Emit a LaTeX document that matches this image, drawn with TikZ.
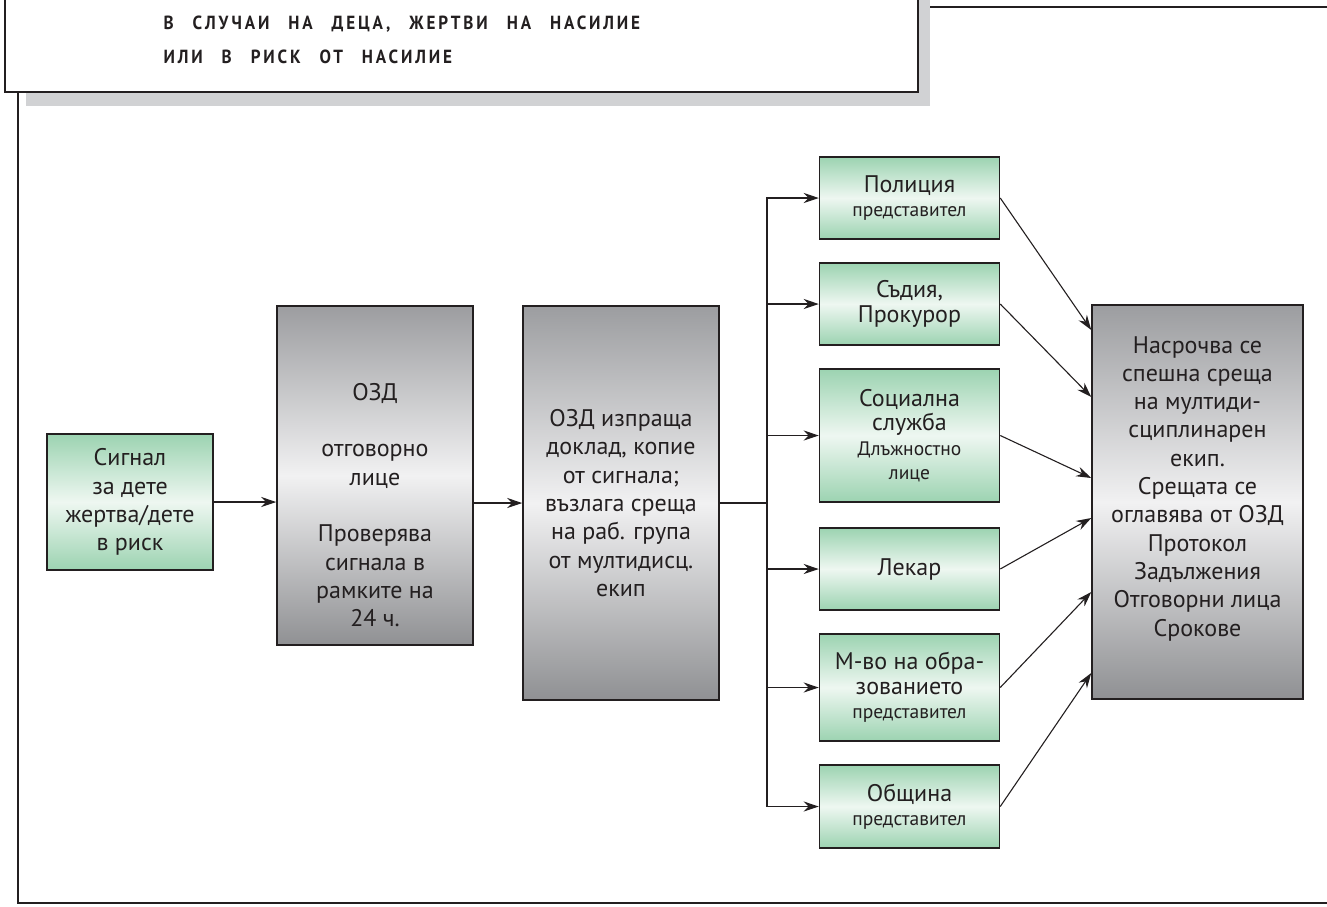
\documentclass[tikz,border=0pt]{standalone}
\usepackage{fontspec}
\setmainfont{PT Sans}
\newfontfamily\headfont{PT Sans}[FakeStretch=0.9, LetterSpace=15]
\usetikzlibrary{arrows.meta, positioning, calc}
\definecolor{boxgreen}{RGB}{156, 211, 177}
\definecolor{boxgreenlight}{RGB}{238, 247, 241}
\definecolor{boxgray}{RGB}{156, 157, 160}
\definecolor{boxgraylight}{RGB}{241, 241, 242}
\definecolor{shadowgray}{RGB}{209, 210, 212}
\definecolor{inkgray}{RGB}{35, 31, 32}
\newcommand{\rolenote}[1]{{\fontsize{19.5}{22}\selectfont #1}}

\begin{document}
\begin{tikzpicture}[x=1pt, y=-1pt,
  greenbox/.style={draw=inkgray, line width=1.5pt, top color=boxgreen,
                   bottom color=boxgreen, middle color=boxgreenlight,
                   text=inkgray, align=center, minimum width=180pt,
                   font=\fontsize{24}{24.5}\selectfont},
  graybox/.style={draw=inkgray, line width=1.5pt, top color=boxgray,
                  bottom color=boxgray!92!black, middle color=boxgraylight,
                  text=inkgray, align=center, minimum width=196pt,
                  font=\fontsize{24}{28.3}\selectfont},
  boxtext/.style={text=inkgray, align=center, font=\fontsize{24}{28.3}\selectfont},
  link/.style={-{Stealth[length=15pt, width=10pt]}, line width=1.1pt, inkgray},
  wire/.style={line width=1.1pt, inkgray},
  frame/.style={line width=2.2pt, inkgray},
]
\useasboundingbox (0,0) rectangle (1327,906);

% Heading
\fill[shadowgray] (26,-20) rectangle (930,106);
\node[draw=inkgray, line width=2.2pt, fill=white, minimum width=913pt,
      minimum height=123pt, anchor=south west] (title) at (4,93) {};
\node[anchor=west, align=left, text=inkgray,
      font={\headfont\bfseries\fontsize{19}{34}\selectfont\spaceskip=19pt}]
  (heading) at (160,40)
{В СЛУЧАИ НА ДЕЦА, ЖЕРТВИ НА НАСИЛИЕ\\ИЛИ В РИСК ОТ НАСИЛИЕ};

% Frame
\draw[frame] (930,7) -- (1340,7);
\draw[frame] (18,93) |- (1340,903);

% Flow
\node[greenbox, minimum width=166pt, minimum height=136pt,
      font=\fontsize{24}{28.3}\selectfont] (signal) at (130,502)
{Сигнал\\за дете\\жертва/дете\\в риск};

\node[graybox, minimum height=339pt] (ozd) at (375,475.5) {};
\node[boxtext] (ozdtext) at (375,505)
{ОЗД\\[28.3pt]отговорно\\лице\\[28.3pt]Проверява\\сигнала в\\рамките на\\24 ч.};

\node[graybox, minimum height=394pt] (report) at (621,503)
{ОЗД изпраща\\доклад, копие\\от сигнала;\\възлага среща\\на раб. група\\от мултидисц.\\екип};

% Members
\node[greenbox, minimum height=82pt] (police) at (909.5,198)
{Полиция\\\rolenote{представител}};
\node[greenbox, minimum height=82pt] (judge) at (909.5,304)
{Съдия,\\Прокурор};
\node[greenbox, minimum height=133pt] (social) at (909.5,435.5)
{Социална\\служба\\\rolenote{Длъжностно}\\\rolenote{лице}};
\node[greenbox, minimum height=82pt] (doctor) at (909.5,569)
{Лекар};
\node[greenbox, minimum height=107pt] (education) at (909.5,687.5)
{М-во на обра-\\зованието\\\rolenote{представител}};
\node[greenbox, minimum height=83pt] (municipality) at (909.5,806.5)
{Община\\\rolenote{представител}};

\node[graybox, minimum width=211pt, minimum height=394pt] (meeting) at (1197.5,502) {};
\node[boxtext] (meetingtext) at (1197.5,488.5)
{Насрочва се\\спешна среща\\на мултиди-\\сциплинарен\\екип.\\Срещата се\\оглавява от ОЗД\\Протокол\\Задължения\\Отговорни лица\\Срокове};

% Arrows
\draw[link] (signal.east) -- (signal.east -| ozd.west);
\draw[link] (report.west -| ozd.east) -- (report.west);
\coordinate (bus) at (767,503);
\draw[wire] (report.east) -- (bus);
\draw[link] (bus) |- (police.west);
\draw[link] (bus) |- (judge.west);
\draw[link] (bus) |- (social.west);
\draw[link] (bus) |- (doctor.west);
\draw[link] (bus) |- (education.west);
\draw[link] (bus) |- (municipality.west);

\draw[link] (police.east) -- ([yshift=172pt]meeting.west);
\draw[link] (judge.east) -- ([yshift=105pt]meeting.west);
\draw[link] (social.east) -- ([yshift=24pt]meeting.west);
\draw[link] (doctor.east) -- ([yshift=-16pt]meeting.west);
\draw[link] (education.east) -- ([yshift=-90pt]meeting.west);
\draw[link] (municipality.east) -- ([yshift=-171pt]meeting.west);
\end{tikzpicture}
\end{document}
